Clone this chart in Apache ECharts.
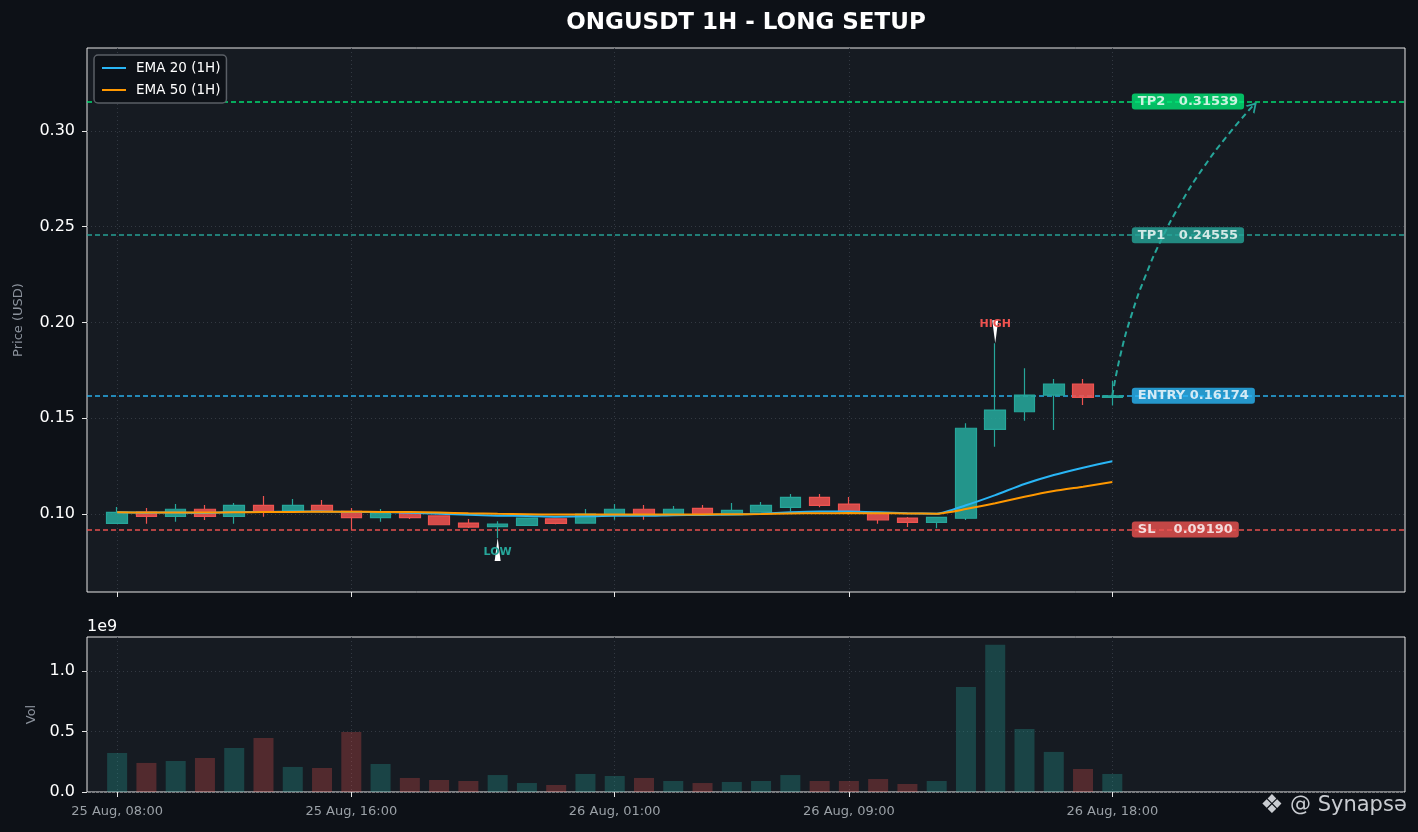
<!DOCTYPE html>
<html><head><meta charset="utf-8">
<script src="https://cdn.jsdelivr.net/npm/echarts@6.0.0/dist/echarts.min.js"></script>
<style>html,body{margin:0;padding:0;background:#0d1117;}#c{width:1418px;height:832px;}</style>
</head><body><div id="c"></div>
<script>
// ---- data ----
const tickHours = [0, 8, 17, 25, 34];
const tickLabels = ['25 Aug, 08:00', '25 Aug, 16:00', '26 Aug, 01:00', '26 Aug, 09:00', '26 Aug, 18:00'];
const priceTicks = [0.10, 0.15, 0.20, 0.25, 0.30];
const volTicks = [0, 0.5, 1.0];

const opens  = [0.0951,0.1010,0.0988,0.1025,0.0988,0.1045,0.1014,0.1045,0.1014,0.0981,0.1005,0.0990,0.0953,0.0934,0.0941,0.0975,0.0953,0.0993,0.1025,0.0996,0.1030,0.0997,0.1010,0.1035,0.1087,0.1052,0.1004,0.0979,0.0957,0.0978,0.1442,0.1534,0.1621,0.1679,0.1609];
const closes = [0.1009,0.0988,0.1025,0.0988,0.1045,0.1014,0.1045,0.1014,0.0981,0.1005,0.0981,0.0944,0.0932,0.0948,0.0979,0.0951,0.1000,0.1025,0.0993,0.1025,0.1000,0.1019,0.1045,0.1087,0.1045,0.1014,0.0970,0.0957,0.0983,0.1448,0.1543,0.1621,0.1679,0.1609,0.16174];
const lows   = [0.0951,0.0949,0.0960,0.0969,0.0949,0.0986,0.1012,0.1005,0.0918,0.0960,0.0974,0.0944,0.0927,0.0875,0.0940,0.0947,0.0950,0.0970,0.0970,0.0994,0.0998,0.0995,0.1008,0.1014,0.1035,0.0997,0.0949,0.0932,0.0926,0.0969,0.1351,0.1487,0.1439,0.1569,0.1566];
const highs  = [0.1037,0.1031,0.1052,0.1047,0.1057,0.1094,0.1078,0.1073,0.1031,0.1026,0.1008,0.0992,0.0974,0.0963,0.0982,0.0978,0.1026,0.1052,0.1047,0.1042,0.1047,0.1057,0.1063,0.1104,0.1104,0.1089,0.1006,0.0984,0.0986,0.1474,0.1891,0.1761,0.1705,0.1705,0.1695];
const volumes = [0.322,0.240,0.256,0.281,0.364,0.446,0.207,0.198,0.496,0.231,0.116,0.099,0.091,0.140,0.074,0.058,0.149,0.132,0.116,0.091,0.074,0.083,0.091,0.140,0.091,0.091,0.107,0.066,0.091,0.868,1.215,0.521,0.331,0.190,0.149];
const ema20 = [0.1009,0.1007,0.1008,0.1006,0.1010,0.1010,0.1013,0.1013,0.1010,0.1010,0.1007,0.1002,0.0996,0.0991,0.0990,0.0986,0.0988,0.0991,0.0991,0.0994,0.0995,0.0997,0.1001,0.1009,0.1013,0.1013,0.1009,0.1004,0.1002,0.1046,0.1099,0.1157,0.1204,0.1242,0.1276];
const ema50 = [0.1009,0.1008,0.1008,0.1008,0.1009,0.1010,0.1011,0.1012,0.1012,0.1011,0.1010,0.1008,0.1004,0.1001,0.0999,0.0997,0.0997,0.0997,0.0997,0.0998,0.0998,0.0999,0.1000,0.1003,0.1004,0.1005,0.1004,0.1003,0.1002,0.1026,0.1056,0.1090,0.1120,0.1143,0.1167];

const levelNames  = ['TP2', 'TP1', 'ENTRY', 'SL'];
const levelValues = [0.31539, 0.24555, 0.16174, 0.09190];
const levelColors = ['#00e676', '#26a69a', '#29b6f6', '#ef5350'];
const levelLabelHour = 34.65;
// dashed projection curve (hour, price)
const projX = [34.00, 34.28, 34.66, 35.13, 35.69, 36.35, 37.10, 37.95, 38.89];
const projY = [0.16174, 0.1832, 0.2041, 0.2242, 0.2437, 0.2625, 0.2806, 0.2979, 0.3146];
const highIndex = 30, lowIndex = 13;

// ---- styling ----
const UP = '#26a69a', DOWN = '#ef5350';
const FONT = 'DejaVu Sans';
const gridLine = { show: true, lineStyle: { color: '#333942', type: [1, 3], width: 1 } };

const candleData = opens.map((o, i) => [i, o, closes[i], lows[i], highs[i]]);
const volData = volumes.map((v, i) => ({
  value: [i, v],
  itemStyle: { color: closes[i] >= opens[i] ? 'rgba(38,166,154,0.30)' : 'rgba(239,83,80,0.28)' }
}));

const chart = echarts.init(document.getElementById('c'));
const xBase = {
  type: 'value', min: -1.03, max: 44.0,
  axisLine: { show: false, onZero: false },
  axisTick: { show: true, customValues: tickHours, length: 5, lineStyle: { color: '#e6e6e6' } },
  splitLine: gridLine
};
const gridBase = { left: 87, right: 13, show: true, backgroundColor: '#161b22', borderColor: '#e6e6e6', borderWidth: 1,
  containLabel: false, outerBoundsMode: 'none' };
chart.setOption({
  backgroundColor: '#0d1117',
  animation: false,
  textStyle: { fontFamily: FONT },
  graphic: [
    { type: 'text', x: 746, y: 23, style: { text: 'ONGUSDT 1H - LONG SETUP', fill: '#ffffff', font: 'bold 23px DejaVu Sans', textAlign: 'center', textVerticalAlign: 'middle' } },
    { type: 'text', x: 87, y: 627, style: { text: '1e9', fill: '#ffffff', font: '16px DejaVu Sans', textAlign: 'left', textVerticalAlign: 'middle' } },
    { type: 'text', x: 1272, y: 806, style: { text: '❖', fill: '#c9ccd1', font: '26px DejaVu Sans', textAlign: 'center', textVerticalAlign: 'middle' } },
    { type: 'text', x: 1290, y: 806, style: { text: '@ Synapsə', fill: '#c9ccd1', font: '21px DejaVu Sans', textAlign: 'left', textVerticalAlign: 'middle' } }
  ],
  legend: {
    left: 94, top: 55, orient: 'vertical', z: 20,
    data: ['EMA 20 (1H)', 'EMA 50 (1H)'],
    icon: 'rect', itemWidth: 24, itemHeight: 2, itemGap: 8,
    padding: [6, 6, 6, 8],
    backgroundColor: '#0d1117', borderColor: '#5a5f66', borderWidth: 1.5, borderRadius: 4,
    textStyle: { color: '#ffffff', fontSize: 13.5, fontFamily: FONT, padding: [0, 0, 0, 5] }
  },
  grid: [
    Object.assign({}, gridBase, { top: 48, height: 544 }),
    Object.assign({}, gridBase, { top: 637, height: 155 })
  ],
  xAxis: [
    Object.assign({}, xBase, { gridIndex: 0, axisLabel: { show: false } }),
    Object.assign({}, xBase, { gridIndex: 1, axisLabel: {
      show: true, customValues: tickHours, color: '#9aa0a6', fontSize: 13, margin: 13, fontFamily: FONT,
      formatter: v => tickLabels[tickHours.indexOf(Math.round(v))] || ''
    } })
  ],
  yAxis: [
    { type: 'value', gridIndex: 0, min: 0.0593, max: 0.3433,
      name: 'Price (USD)', nameLocation: 'middle', nameGap: 62, nameRotate: 90,
      nameTextStyle: { color: '#8b929c', fontSize: 13, fontFamily: FONT },
      axisLine: { show: false, onZero: false },
      axisTick: { show: true, customValues: priceTicks, length: 5, lineStyle: { color: '#e6e6e6' } },
      axisLabel: { customValues: priceTicks, color: '#ffffff', fontSize: 16, margin: 12, fontFamily: FONT, formatter: v => v.toFixed(2) },
      splitLine: gridLine },
    { type: 'value', gridIndex: 1, min: 0, max: 1.28,
      name: 'Vol', nameLocation: 'middle', nameGap: 49, nameRotate: 90,
      nameTextStyle: { color: '#8b929c', fontSize: 13, fontFamily: FONT },
      axisLine: { show: false, onZero: false },
      axisTick: { show: true, customValues: volTicks, length: 5, lineStyle: { color: '#e6e6e6' } },
      axisLabel: { customValues: volTicks, color: '#ffffff', fontSize: 16, margin: 12, fontFamily: FONT, formatter: v => v.toFixed(1) },
      splitLine: gridLine }
  ],
  series: [
    {
      name: 'Price', type: 'candlestick', xAxisIndex: 0, yAxisIndex: 0,
      data: candleData, encode: { x: 0, y: [1, 2, 3, 4] },
      barWidth: 21,
      itemStyle: { color: 'rgba(38,166,154,0.88)', color0: 'rgba(239,83,80,0.88)', borderColor: UP, borderColor0: DOWN, borderWidth: 1.2 },
      markLine: {
        silent: true, symbol: ['none', 'none'], label: { show: false }, precision: 6, z: 1,
        data: levelValues.map((v, i) => ({ yAxis: v, lineStyle: { color: levelColors[i], type: [5, 3], width: 1.6, opacity: 0.95 } }))
      },
      markPoint: {
        silent: true,
        data: [
          { coord: [highIndex, highs[highIndex]], symbol: 'path://M0,0 L6,0 L3,24 Z', symbolSize: [6, 23], symbolOffset: [0, '-50%'],
            itemStyle: { color: '#ffffff' },
            label: { show: true, formatter: 'HIGH', position: 'top', offset: [0, 14], color: DOWN, fontWeight: 'bold', fontSize: 11, fontFamily: FONT } },
          { coord: [lowIndex, lows[lowIndex]], symbol: 'path://M3,0 L6,24 L0,24 Z', symbolSize: [6, 23], symbolOffset: [0, '50%'],
            itemStyle: { color: '#ffffff' },
            label: { show: true, formatter: 'LOW', position: 'inside', offset: [0, 3], color: UP, fontWeight: 'bold', fontSize: 11, fontFamily: FONT } }
        ]
      }
    },
    { name: 'EMA 20 (1H)', type: 'line', xAxisIndex: 0, yAxisIndex: 0, data: ema20.map((v, i) => [i, v]),
      symbol: 'none', smooth: 0.2, lineStyle: { color: '#29b6f6', width: 2 }, itemStyle: { color: '#29b6f6' }, z: 3 },
    { name: 'EMA 50 (1H)', type: 'line', xAxisIndex: 0, yAxisIndex: 0, data: ema50.map((v, i) => [i, v]),
      symbol: 'none', smooth: 0.2, lineStyle: { color: '#ff9800', width: 2 }, itemStyle: { color: '#ff9800' }, z: 4 },
    { name: 'projection', type: 'line', xAxisIndex: 0, yAxisIndex: 0,
      data: projX.map((x, i) => [x, projY[i]]),
      symbol: 'none', smooth: true, z: 5,
      lineStyle: { color: '#26a69a', type: [6, 4], width: 2 },
      markPoint: {
        silent: true,
        data: [{ coord: [projX[projX.length - 1], projY[projY.length - 1]],
          symbol: 'path://M0,10 L5,0 L10,10 L8.4,10 L5,3.6 L1.6,10 Z', symbolSize: [12, 10], symbolRotate: -43,
          symbolOffset: [-2, 3], itemStyle: { color: '#26a69a' }, label: { show: false } }]
      }
    },
    { name: 'levels', type: 'scatter', xAxisIndex: 0, yAxisIndex: 0, symbolSize: 1,
      itemStyle: { color: 'rgba(0,0,0,0)' }, z: 10, zlevel: 1, silent: true,
      data: levelValues.map((v, i) => ({
        value: [levelLabelHour, v],
        label: {
          show: true, position: 'right', distance: 0,
          formatter: levelNames[i].padEnd(5, ' ') + ' ' + v.toFixed(5),
          color: '#ffffff', fontWeight: 'bold', fontSize: 13, fontFamily: FONT, lineHeight: 13,
          backgroundColor: levelColors[i], padding: [2, 6, 1, 6], borderRadius: 3
        }
      }))
    },
    { name: 'Volume', type: 'bar', xAxisIndex: 1, yAxisIndex: 1, data: volData, barWidth: 20 }
  ]
});
</script></body></html>
